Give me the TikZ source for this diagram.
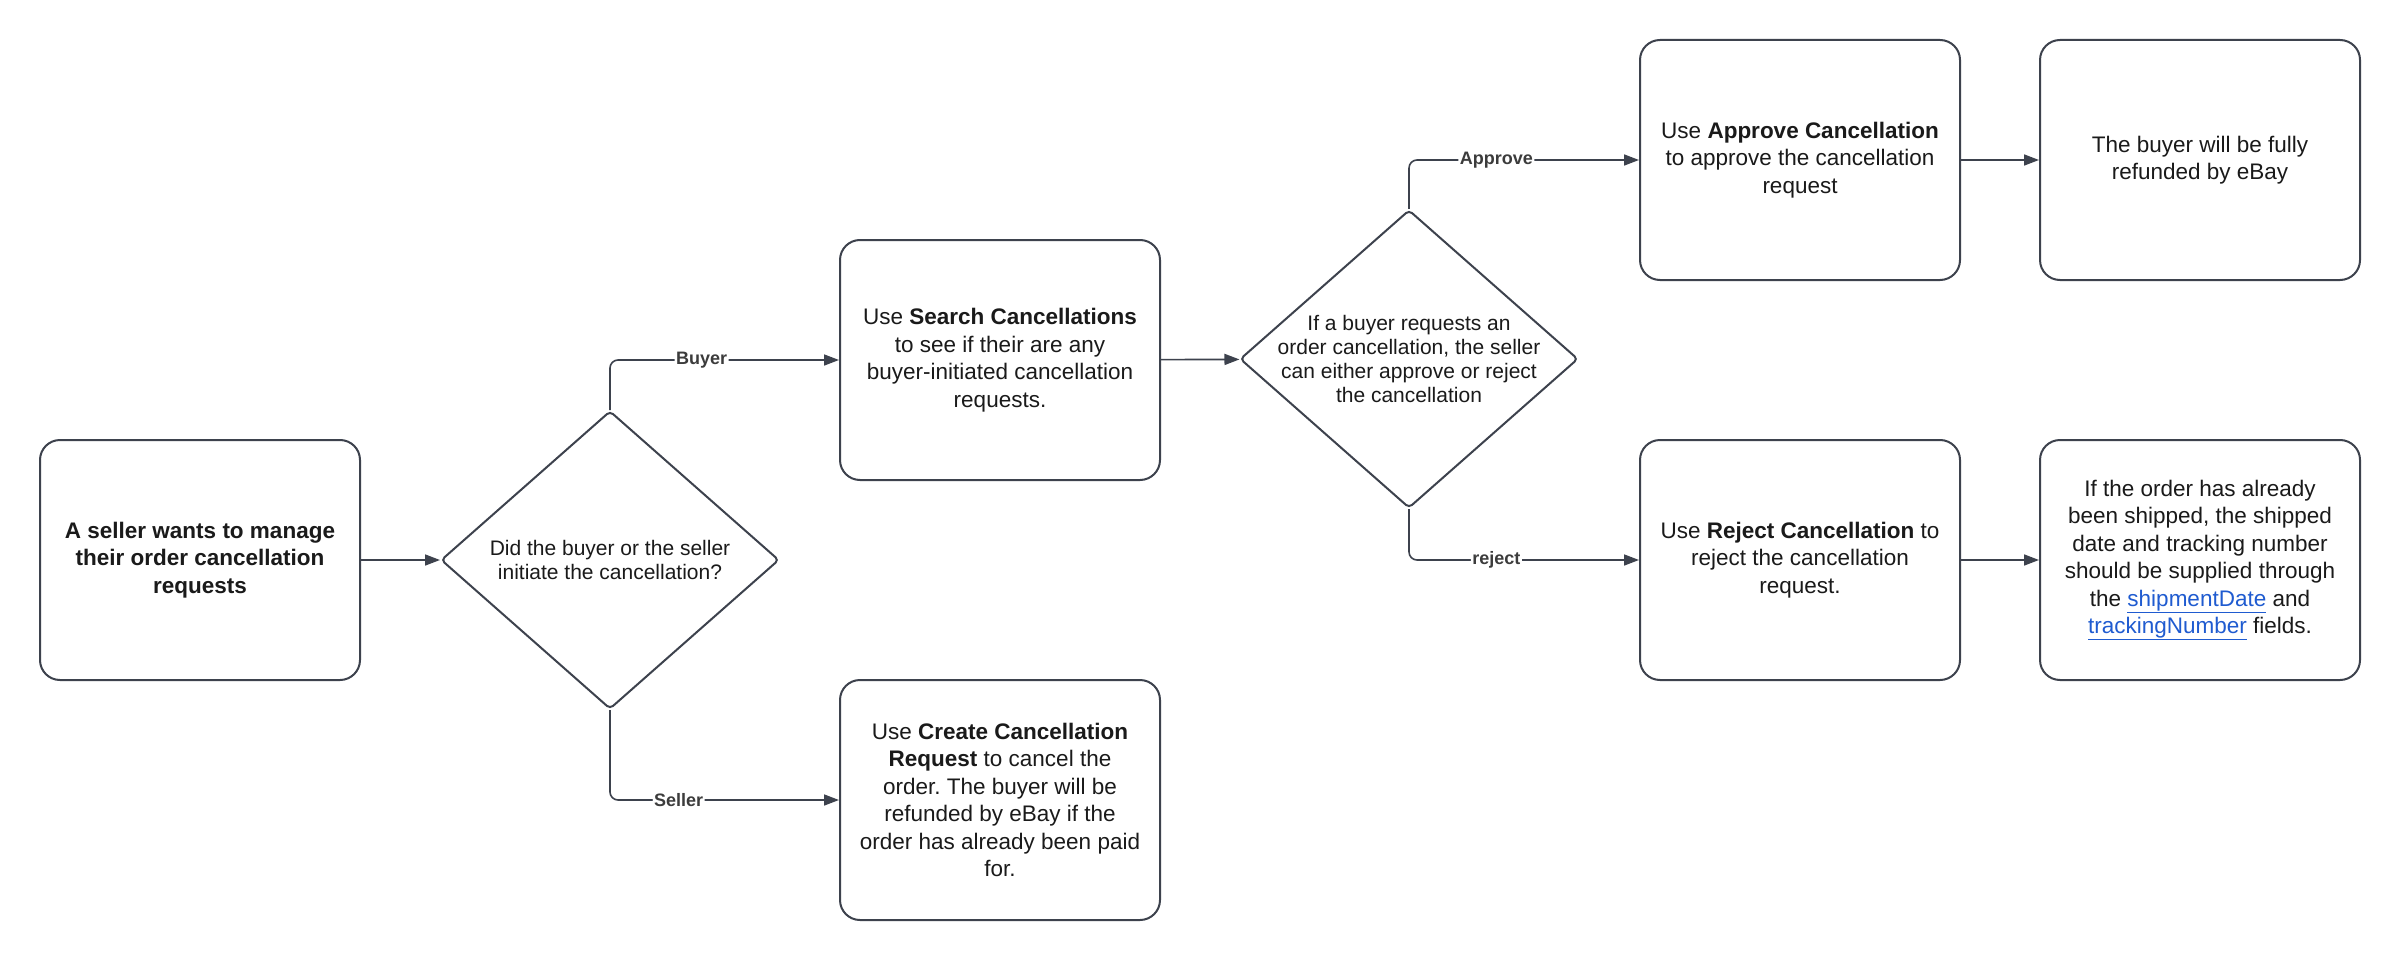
\documentclass[tikz,border=0pt]{standalone}
\usepackage{fontspec}
\setmainfont{Liberation Sans}
\usetikzlibrary{shapes.geometric,arrows.meta}
\definecolor{linec}{HTML}{3D424D}
\definecolor{txt}{HTML}{1A1A1A}
\definecolor{linkc}{HTML}{1F5BD0}
\newcommand{\lnk}[1]{\textcolor{linkc}{\underline{#1}}}
\frenchspacing
\begin{document}
\begin{tikzpicture}[x=1pt,y=-1pt,
  box/.style={draw=linec, line width=2pt, rounded corners=20pt, minimum width=320pt, minimum height=240pt, align=center, text=txt, font=\fontsize{22.5}{27.5}\selectfont, inner sep=0pt},
  dia/.style={draw=linec, line width=2pt, diamond, rounded corners=4pt, minimum width=338pt, minimum height=298pt, inner sep=0pt},
  diatext/.style={align=center, text=txt, font=\fontsize{21}{24}\selectfont, inner sep=0pt},
  conn/.style={draw=linec, line width=1.6pt, -{Triangle[length=15pt,width=11pt]}, rounded corners=8pt},
  lbl/.style={fill=white, text=txt!85, font=\bfseries\fontsize{18}{20}\selectfont, inner sep=1.5pt}]
\useasboundingbox[fill=white] (0,0) rectangle (2400,960);

\node[box] (start) at (200,560) {\textbf{A seller wants to manage}\\\textbf{their order cancellation}\\\textbf{requests}};
\node[dia, label={[diatext]center:Did the buyer or the seller\\initiate the cancellation?}] (d1) at (610,560) {};
\node[box] (search) at (1000,360) {Use \textbf{Search Cancellations}\\to see if their are any\\buyer-initiated cancellation\\requests.};
\node[box] (create) at (1000,800) {Use \textbf{Create Cancellation}\\\textbf{Request} to cancel the\\order. The buyer will be\\refunded by eBay if the\\order has already been paid\\for.};
\node[dia, label={[diatext]center:If a buyer requests an\\order cancellation, the seller\\can either approve or reject\\the cancellation}] (d2) at (1409,359) {};
\node[box] (approve) at (1800,160) {Use \textbf{Approve Cancellation}\\to approve the cancellation\\request};
\node[box] (refund) at (2200,160) {The buyer will be fully\\refunded by eBay};
\node[box] (reject) at (1800,560) {Use \textbf{Reject Cancellation} to\\reject the cancellation\\request.};
\node[box] (ship) at (2200,560) {If the order has already\\been shipped, the shipped\\date and tracking number\\should be supplied through\\the \lnk{shipmentDate} and\\\lnk{trackingNumber} fields.};

\draw[conn] (start) -- (d1);
\draw[conn] (d1.north) |- node[lbl, pos=0.70] {Buyer} (search.west);
\draw[conn] (d1.south) |- node[lbl, pos=0.65] {Seller} (create.west);
\draw[conn] (search) -- (d2);
\draw[conn] (d2.north) |- node[lbl, pos=0.69] {Approve} (approve.west);
\draw[conn] (d2.south) |- node[lbl, pos=0.69] {reject} (reject.west);
\draw[conn] (approve) -- (refund);
\draw[conn] (reject) -- (ship);
\end{tikzpicture}
\end{document}
